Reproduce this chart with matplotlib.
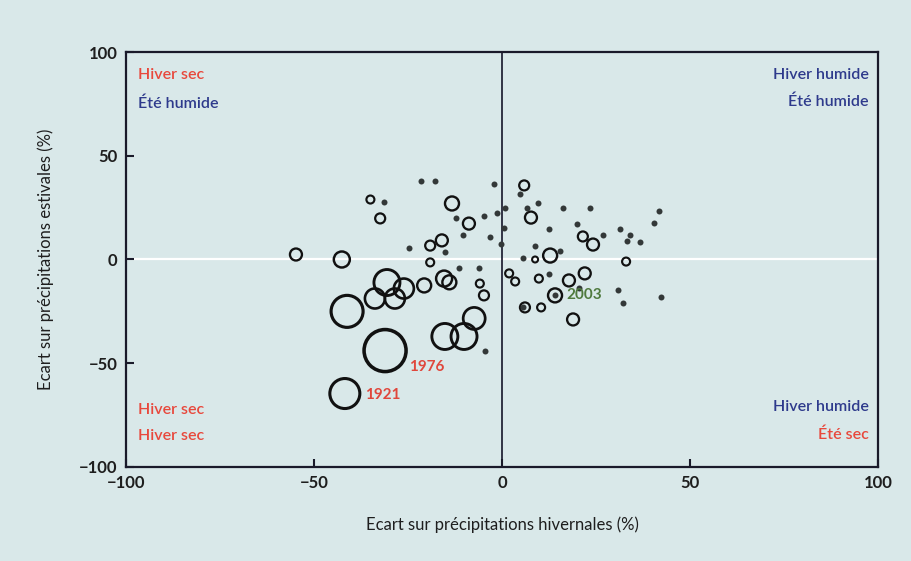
import matplotlib
matplotlib.use("Agg")
import matplotlib.pyplot as plt
import numpy as np

plt.rcParams['font.family'] = ['Lato', 'DejaVu Sans']

# Open circles: winter deviation (%), summer deviation (%), bubble magnitude
cercles_x = [-54.8, -42.6, -35.0, -32.4, -13.3, -8.8, -16.0, -19.1, -19.1, 5.9,
             7.7, 21.5, 24.2, 12.8, 8.8, 33.0, 1.9, 3.5, 9.8, 17.8,
             22.0, 14.1, 6.1, 10.4, 18.9, -30.6, -26.1, -33.8, -28.5, -20.7,
             -41.2, -31.1, -41.8, -15.4, -14.0, -5.9, -4.8, -15.2, -10.1, -7.4]
cercles_y = [2.4, 0.0, 28.9, 19.8, 27.0, 17.3, 9.2, 6.7, -1.4, 35.7,
             20.2, 11.1, 7.2, 1.9, 0.0, -1.0, -6.7, -10.6, -9.2, -10.1,
             -6.7, -17.3, -23.1, -23.1, -28.9, -11.1, -14.0, -18.8, -18.8, -12.5,
             -25.0, -43.9, -64.6, -9.2, -11.0, -11.6, -17.3, -37.1, -37.1, -28.4]
cercles_mag = [6, 8, 4, 5, 7, 6, 6, 5, 4, 5,
               6, 5, 6, 7, 3, 4, 4, 4, 4, 6,
               6, 7, 5, 4, 6, 13, 10, 10, 10, 7,
               16, 21, 15, 8, 7, 4, 5, 13, 13, 11]

# Small filled dots
points_x = [-31.4, -24.7, -21.5, -17.8, -2.1, -12.2, -4.8, -1.3, -10.4, -3.2,
            -0.3, 0.5, 0.8, -11.4, -6.1, 4.8, 9.6, 6.6, 16.2, 23.4,
            12.5, 19.9, 26.9, 8.8, 15.4, 41.8, 40.4, 31.4, 34.0, 33.2,
            36.7, 12.5, 20.5, 30.9, 32.2, 42.3, -4.5, 14.1, -15.2, 5.5, 5.6]
points_y = [27.5, 5.3, 38.0, 38.0, 36.6, 20.2, 21.2, 22.2, 11.6, 10.6,
            7.7, 15.4, 24.6, -3.9, -3.9, 31.8, 27.0, 24.6, 25.0, 25.0,
            14.5, 16.9, 11.6, 6.7, 4.3, 23.6, 17.8, 14.5, 11.6, 8.7,
            8.2, -7.2, -13.5, -14.9, -21.2, -18.3, -44.3, -17.3, 3.4, -23.0, 0.5]

annees = ["1976", "1921", "2003"]
annees_x = [-24.7, -36.4, 17.0]
annees_y = [-51.6, -65.5, -17.3]
annees_col = ["#e0473c", "#e0473c", "#4f7a3e"]

RED = "#e8483c"
BLUE = "#2e3a8c"
BG = "#d9e8e9"

fig = plt.figure(figsize=(9.11, 5.61), dpi=100)
fig.patch.set_facecolor(BG)
ax = fig.add_axes([0.1383, 0.1676, 0.8255, 0.7397])
ax.set_facecolor(BG)

ax.set_xlim(-100, 100)
ax.set_ylim(-100, 100)

ax.axhline(0, color="white", lw=1.6, zorder=1)
ax.axvline(0, color="#15152a", lw=1.2, zorder=1)

mag = np.array(cercles_mag, dtype=float)
sizes = (1.44 * mag) ** 2
lws = 1.3 + 0.06 * mag
ax.scatter(cercles_x, cercles_y, s=sizes, facecolors="none",
           edgecolors="#111111", linewidths=lws, zorder=3)
ax.scatter(points_x, points_y, s=(1.44 * 3.0) ** 2, color="#333838",
           linewidths=0, zorder=4)

for t, x, y, c in zip(annees, annees_x, annees_y, annees_col):
    ax.text(x, y, t, color=c, fontsize=11, fontweight="bold",
            ha="left", va="center", zorder=5)

fs = 11.5
kw = dict(fontsize=fs, va="center", fontweight="semibold")
ax.text(-96.8, 89, "Hiver sec", color=RED, ha="left", **kw)
ax.text(-96.8, 75, "Été humide", color=BLUE, ha="left", **kw)
ax.text(97.5, 89, "Hiver humide", color=BLUE, ha="right", **kw)
ax.text(97.5, 76, "Été humide", color=BLUE, ha="right", **kw)
ax.text(-96.8, -72.3, "Hiver sec", color=RED, ha="left", **kw)
ax.text(-96.8, -85.3, "Hiver sec", color=RED, ha="left", **kw)
ax.text(97.5, -71.0, "Hiver humide", color=BLUE, ha="right", **kw)
ax.text(97.5, -84.3, "Été sec", color=RED, ha="right", **kw)

ticks = [-100, -50, 0, 50, 100]
tick_labels = ["\u2212100", "\u221250", "0", "50", "100"]
ax.set_xticks(ticks)
ax.set_yticks(ticks)
ax.set_xticklabels(tick_labels)
ax.set_yticklabels(tick_labels)
ax.tick_params(direction="in", length=6, width=1.5, color="#1a1a2a",
               labelsize=12, labelcolor="#1e1e1e", pad=6)
for lab in ax.get_xticklabels() + ax.get_yticklabels():
    lab.set_fontweight("bold")

for sp in ax.spines.values():
    sp.set_color("#1a1a2a")
    sp.set_linewidth(1.6)

ax.set_xlabel("Ecart sur précipitations hivernales (%)", fontsize=12,
              color="#1e1e1e", labelpad=18)
ax.set_ylabel("Ecart sur précipitations estivales (%)", fontsize=12,
              color="#1e1e1e", labelpad=18)

fig.savefig("out.png", dpi=100, facecolor=BG)
